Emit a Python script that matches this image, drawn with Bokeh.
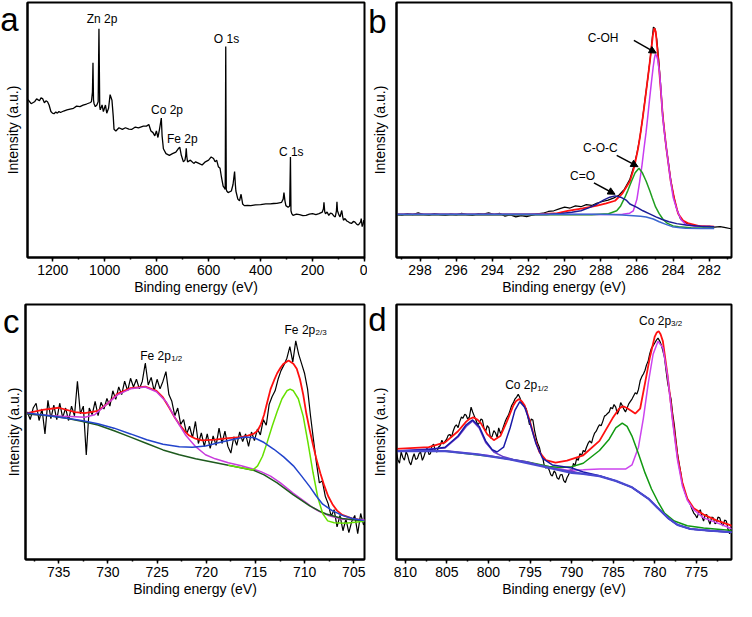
from bokeh.plotting import figure
from bokeh.models import Range1d, SingleIntervalTicker, FixedTicker, Label, Arrow, NormalHead
from bokeh.layouts import column, row
from bokeh.embed import file_html
from bokeh.resources import INLINE

FONT = "Liberation Sans"

# ---------------- panel a: survey spectrum (binding energy eV, intensity a.u.)
a_survey = [(1295, 162.3), (1283, 158), (1270, 160), (1262, 163), (1251, 161), (1245, 164), (1239, 163.3),
            (1232, 159), (1226, 161), (1220, 160), (1214, 156.7), (1207, 150), (1201, 148.3), (1195, 147.7),
            (1188, 149.5), (1182, 148.3), (1176, 150), (1170, 149), (1158, 150.5), (1145, 151.7), (1133, 152.5),
            (1120, 153.3), (1108, 155.5), (1095, 155), (1083, 156.5), (1070, 157.7), (1057, 159), (1051, 160),
            (1047, 170), (1045, 200), (1043, 162), (1041, 158.3), (1036, 155), (1030, 156.7), (1025, 160),
            (1022, 235), (1019, 155), (1017, 151.7), (1010, 156.7), (1005, 150), (997, 156.7), (992, 148.3),
            (985, 153.3), (979, 167.3), (972, 161.7), (967, 145), (964, 131.7), (957, 130), (945, 133.3),
            (932, 131.7), (920, 133.3), (907, 132), (895, 131.7), (882, 134), (870, 133.3), (851, 135),
            (839, 135), (830, 136.7), (822, 130), (814, 128.3), (807, 125), (801, 130), (795, 123.3),
            (789, 131.7), (784, 140), (782, 143.3), (779, 125), (774, 111.7), (764, 106.7), (751, 105),
            (739, 106.7), (726, 108.3), (717, 111.7), (711, 113.3), (705, 105), (697, 98.3), (691, 100),
            (688, 105), (686, 112.3), (684, 104), (681, 98.3), (670, 100), (657, 96.7), (650, 98.3),
            (637.5, 96.7), (625, 95), (612.5, 98.3), (600, 100), (590, 103.3), (581, 101.7), (575, 98.3),
            (569, 100), (562.5, 93.3), (556, 91.7), (550, 81.7), (544, 73.3), (540, 71.7), (536, 70),
            (534, 216.7), (532, 70), (530, 68.3), (525, 66.7), (512.5, 68.3), (506, 75), (500, 88.3),
            (497, 75), (495, 68.3), (487.5, 60), (481, 58.3), (475, 65), (469, 55), (462.5, 53.3),
            (450, 53.5), (437.5, 53.3), (420, 54), (400, 54.3), (380, 55), (362.5, 55), (350, 55.5),
            (337.5, 55.7), (319, 56.7), (313, 60), (310, 66.7), (306, 58), (302.5, 53.3), (294, 51.7),
            (288, 53), (285, 103.3), (283, 48), (280, 45), (275, 43.3), (262, 44.5), (250, 44), (237, 43),
            (225, 43.3), (212, 44.5), (200, 45), (187, 44), (175, 45), (162.5, 46.7), (158, 50), (156, 56.7),
            (153, 47), (150, 45), (144, 46.7), (137.5, 43.3), (131, 45.5), (125, 45), (119, 43), (112.5, 41.7),
            (108, 48), (106, 57.3), (104, 48), (100, 45), (97, 43), (94, 41.7), (90, 46), (87.5, 48.3),
            (84, 42), (81, 38.3), (75, 40), (68, 37.5), (62.5, 36.7), (56, 35.5), (50, 35), (43, 37),
            (37.5, 36.7), (31, 34.5), (25, 33.3), (19, 35), (15, 36.5), (12.5, 40), (9, 31.7), (5, 35),
            (2.5, 38.3), (0, 36)]
a_peaks = [("Zn 2p", 1010, 245), ("O 1s", 531, 224), ("C 1s", 282, 108.5),
           ("Co 2p", 760, 151.5), ("Fe 2p", 701, 121.5)]

# ---------------- panel b: C 1s
b_data = [(299.3, 44.3), (299.0, 43.5), (298.7, 45.2), (298.4, 44.0), (298.1, 45.8), (297.8, 44.2), (297.5, 43.6),
          (297.2, 45.0), (296.9, 44.1), (296.6, 43.2), (296.3, 44.6), (296.0, 43.8), (295.7, 45.3), (295.4, 44.0),
          (295.1, 43.3), (294.8, 45.0), (294.5, 44.5), (294.2, 45.8), (293.9, 44.2), (293.6, 45.5), (293.3, 42.5),
          (293.0, 43.8), (292.7, 41.7), (292.4, 43.0), (292.1, 42.0), (291.8, 43.4), (291.5, 44.8), (291.2, 45.5),
          (290.9, 47.3), (290.6, 48.0), (290.3, 50.0), (290.0, 51.7), (289.7, 50.8), (289.4, 53.0), (289.1, 52.2),
          (288.8, 54.3), (288.5, 53.5), (288.2, 56.0), (287.9, 57.5), (287.6, 59), (287.3, 61), (287.0, 64),
          (286.7, 70), (286.4, 80), (286.2, 92), (286.0, 107), (285.85, 122), (285.7, 141), (285.55, 163),
          (285.4, 184), (285.25, 207), (285.15, 226), (285.09, 236.7), (285.0, 235), (284.9, 224), (284.8, 204),
          (284.7, 180), (284.6, 152), (284.5, 133), (284.4, 116), (284.28, 100), (284.15, 82), (284.0, 66),
          (283.8, 50), (283.6, 40), (283.4, 36.5), (283.1, 34), (282.9, 33), (282.6, 32.5), (282.3, 31.5),
          (282.0, 32), (281.7, 31.3), (281.4, 31.8), (281.1, 30.7), (280.8, 29.5)]
b_envelope = [(299.3, 44.3), (292.0, 44.3), (290.5, 45.2), (289.83, 48), (289.0, 50.5), (288.2, 53.3), (287.7, 55.5),
              (287.21, 58.3), (286.8, 66), (286.39, 78.3), (286.15, 93), (285.94, 111.7), (285.8, 128),
              (285.67, 145), (285.55, 162), (285.44, 178.3), (285.32, 196), (285.22, 211.7), (285.12, 228),
              (285.04, 235.7), (284.96, 232), (284.86, 211.7), (284.78, 195), (284.71, 178.3), (284.64, 162),
              (284.57, 145), (284.47, 128), (284.37, 111.7), (284.25, 95), (284.13, 78.3), (283.93, 60),
              (283.72, 45), (283.45, 38), (283.14, 35), (282.6, 32.5), (281.73, 31.7)]
b_c_oh = [(299.3, 44.3), (287.5, 44.3), (286.8, 44.5), (286.4, 45.5), (286.2, 48), (286.0, 60), (285.85, 78),
          (285.72, 95), (285.61, 112), (285.5, 128), (285.4, 145), (285.3, 163), (285.2, 180), (285.1, 196),
          (285.03, 205), (284.98, 209), (284.92, 207.5), (284.86, 204), (284.75, 190), (284.67, 172),
          (284.58, 145), (284.48, 128), (284.37, 112), (284.25, 95), (284.13, 78), (284.0, 62), (283.77, 48),
          (283.55, 38.5), (283.3, 34), (282.8, 32), (281.73, 31.7)]
b_c_o_c = [(299.3, 43.8), (288.5, 43.8), (287.57, 45), (287.12, 48), (286.9, 53), (286.67, 61.7), (286.5, 69),
           (286.3, 78.3), (286.1, 87), (285.89, 91.7), (285.7, 87), (285.49, 78.3), (285.3, 69), (285.16, 61.7),
           (284.97, 52), (284.77, 45), (284.55, 39), (284.31, 35), (284.0, 32.5), (283.7, 31.7), (283.0, 30.5),
           (281.73, 30.3)]
b_c_eq_o = [(299.3, 44.3), (291.0, 44.3), (290.2, 45.3), (289.6, 46.5), (289.1, 48), (288.6, 51.5), (288.2, 55),
            (287.8, 59.5), (287.5, 62), (287.21, 63.3), (286.9, 62), (286.6, 59), (286.39, 55), (286.0, 51.5),
            (285.67, 48), (285.3, 44.8), (284.95, 41.7), (284.6, 39), (284.23, 36.7), (283.8, 34.8),
            (283.3, 33.3), (282.5, 32), (281.73, 31.7)]
b_background = [(299.3, 44.5), (288.5, 44.5), (287.5, 44.2), (286.8, 43.7), (286.2, 43), (285.8, 42.3),
                (285.49, 41.7), (285.1, 39.5), (284.77, 36.7), (284.4, 34), (284.05, 31.7), (283.6, 30.5),
                (283.3, 30), (282.5, 29.8), (281.73, 29.8)]

# ---------------- panel c: Fe 2p
c_data = [(738.2, 154), (737.9, 146), (737.6, 158), (737.3, 163), (737.0, 145), (736.7, 157), (736.4, 131),
          (736.1, 166), (735.8, 147), (735.5, 161), (735.2, 146), (734.9, 163), (734.6, 148), (734.3, 158),
          (734.0, 145), (733.7, 160), (733.4, 150), (733.1, 186), (732.8, 152), (732.5, 160), (732.2, 109),
          (731.9, 158), (731.6, 151), (731.3, 165), (731.0, 150), (730.7, 164), (730.4, 157), (730.1, 168),
          (729.8, 160), (729.5, 176), (729.2, 167), (728.9, 180), (728.6, 172), (728.3, 186), (728.0, 176),
          (727.7, 189), (727.4, 180), (727.1, 188), (726.8, 178), (726.5, 186), (726.2, 205), (725.9, 182),
          (725.6, 190), (725.3, 176), (725.0, 188), (724.7, 178), (724.4, 186), (724.1, 196), (723.8, 172),
          (723.5, 165), (723.2, 150), (722.9, 158), (722.6, 141), (722.3, 146), (722.0, 131), (721.7, 139),
          (721.4, 127), (721.1, 144), (720.8, 121), (720.5, 132), (720.2, 118), (719.9, 131), (719.6, 116),
          (719.3, 129), (719.0, 119), (718.7, 137), (718.4, 121), (718.1, 134), (717.8, 118), (717.5, 111),
          (717.2, 128), (716.9, 119), (716.6, 133), (716.3, 123), (716.0, 131), (715.7, 118), (715.4, 133),
          (715.1, 124), (714.8, 136), (714.5, 130), (714.2, 146), (713.9, 140), (713.6, 162), (713.3, 170),
          (713.0, 176), (712.7, 188), (712.4, 197), (712.1, 203), (711.8, 210), (711.5, 222), (711.2, 206),
          (710.9, 228), (710.6, 214), (710.3, 204), (710.0, 194), (709.7, 178), (709.4, 150), (709.1, 125),
          (708.8, 101), (708.5, 80), (708.2, 82), (707.9, 66), (707.6, 58), (707.3, 45), (707.0, 52),
          (706.7, 34), (706.4, 46), (706.1, 30), (705.8, 42), (705.5, 28), (705.2, 40), (704.9, 46),
          (704.6, 27), (704.3, 48), (704.0, 36)]
c_envelope = [(738.2, 152.7), (736.66, 156), (735.0, 158.3), (733.34, 153.7), (732.35, 152.7), (731.02, 155),
              (730.03, 162.7), (729.03, 172.7), (727.7, 178.7), (726.2, 180.3), (725.06, 176), (724.4, 169),
              (723.73, 157.7), (723.2, 148), (722.74, 141), (722.2, 134), (721.74, 129.3), (721.1, 126),
              (720.42, 124.3), (719.09, 125), (717.76, 126.7), (716.44, 127.7), (715.78, 129.3), (715.2, 131),
              (714.78, 134.3), (714.45, 141), (714.12, 151), (713.8, 164), (713.46, 177.7), (713.1, 187),
              (712.79, 194.3), (712.45, 200), (712.13, 204.3), (711.63, 207.7), (711.14, 204.3), (710.8, 199),
              (710.47, 188), (710.14, 172), (709.82, 152), (709.48, 135), (709.15, 120), (708.83, 106),
              (708.4, 90), (708.0, 77), (707.6, 66), (707.17, 57.7), (706.7, 51), (706.17, 46.5), (705.2, 43),
              (704.2, 41), (703.9, 40.8)]
c_fe_half = [(738.2, 151.7), (734.34, 149.3), (732.35, 148.3), (731.35, 151), (730.03, 162.7), (729.03, 171.7),
             (727.7, 178), (726.2, 180), (725.06, 175), (724.06, 164.3), (723.07, 146), (722.07, 129.3),
             (721.08, 117.7), (720.08, 109.3), (719.09, 105), (717.76, 101), (716.44, 97.7), (715.44, 95),
             (714.45, 91.7), (713.46, 87), (712.46, 80), (711.14, 69), (709.81, 59), (709.15, 54),
             (708.48, 50), (707.49, 45.5), (706.16, 42), (704.17, 41.5), (703.9, 41.5)]
c_background = [(738.2, 151.7), (736.0, 150), (734.34, 147.7), (732.68, 144.3), (731.02, 140.3), (729.37, 134.3),
                (727.7, 127.7), (726.05, 121), (724.4, 114.3), (722.74, 109.3), (721.08, 105), (719.42, 101.7),
                (717.76, 98.3), (716.1, 95), (715.11, 92.7), (714.12, 88.3), (712.79, 80), (711.14, 67.5),
                (709.48, 56), (708.48, 50.5), (707.8, 47.5), (706.17, 42.7), (704.17, 40.4), (703.9, 40.4)]
c_fe_3half = [(717.76, 98.3), (715.78, 94.3), (715.28, 93.3), (714.78, 97.7), (714.28, 107.7), (713.79, 122.7),
              (713.29, 139.3), (712.79, 154.3), (712.3, 167.7), (711.8, 176), (711.47, 177.7), (711.14, 176),
              (710.64, 167.7), (710.14, 149.3), (709.64, 121), (709.15, 91), (708.65, 64.3), (708.15, 47.7),
              (707.65, 40.3), (706.99, 38.3), (705.83, 37.7), (704.17, 39.7), (703.9, 39.8)]
c_satellite = [(738.2, 152.7), (736.0, 150), (734.34, 147.7), (732.68, 145), (731.02, 141.7), (729.37, 137),
               (727.7, 131), (726.05, 125), (724.4, 120.3), (722.74, 117.7), (721.41, 117), (720.08, 118.3),
               (718.76, 121.7), (717.43, 125), (716.1, 127.7), (715.11, 127), (714.12, 122), (713.12, 115),
               (712.13, 107), (711.14, 97.7), (710.3, 87), (709.48, 76), (708.8, 66), (708.16, 57.7),
               (707.2, 51), (706.17, 46), (705.2, 43), (704.2, 41), (703.9, 40.8)]

# ---------------- panel d: Co 2p
d_data = [(811.09, 111.7), (810.9, 104), (810.7, 100), (810.5, 111.7), (810.3, 106), (810.11, 103.3), (809.9, 112),
          (809.72, 108.3), (809.5, 101), (809.33, 98.3), (809.1, 106), (808.94, 110), (808.75, 104),
          (808.55, 105), (808.35, 110), (808.16, 111.7), (807.95, 103), (807.77, 106.7), (807.55, 113),
          (807.37, 116.7), (807.15, 109), (806.98, 110), (806.8, 118), (806.59, 120), (806.4, 113),
          (806.2, 111.7), (806.0, 117), (805.81, 118.3), (805.6, 124), (805.42, 120), (805.2, 123),
          (805.03, 125), (804.85, 129), (804.64, 130), (804.45, 127), (804.25, 133.3), (804.05, 138),
          (803.86, 140), (803.65, 137), (803.46, 143.3), (803.25, 148), (803.07, 146.7), (802.85, 151),
          (802.68, 150), (802.5, 146), (802.29, 148.3), (802.09, 158.3), (801.9, 153.3), (801.7, 149),
          (801.51, 145), (801.3, 140), (801.12, 141.7), (800.9, 146), (800.73, 145), (800.55, 137),
          (800.34, 133.3), (800.15, 139), (799.94, 136.7), (799.75, 126), (799.55, 128.3), (799.35, 134),
          (799.16, 131.7), (798.95, 127), (798.77, 136.7), (798.55, 131), (798.38, 133.3), (798.2, 138),
          (797.99, 143.3), (797.8, 147), (797.6, 150), (797.4, 155), (797.21, 160), (797.0, 163),
          (796.82, 166.7), (796.6, 169), (796.42, 171.7), (796.23, 168.3), (796.05, 164), (795.84, 161.7),
          (795.65, 158), (795.45, 156.7), (795.25, 148), (795.06, 140), (794.85, 146), (794.66, 145),
          (794.45, 134), (794.27, 126.7), (794.1, 121), (793.88, 116.7), (793.7, 110), (793.49, 106.7),
          (793.3, 98), (793.1, 95), (792.9, 96), (792.71, 93.3), (792.5, 88), (792.32, 86.7), (792.1, 92),
          (791.93, 90), (791.75, 85), (791.54, 83.3), (791.35, 88), (791.14, 88.3), (790.95, 82),
          (790.75, 80), (790.56, 85), (790.36, 88), (790.17, 93.3), (789.97, 92), (789.78, 100), (789.6, 97),
          (789.39, 105), (789.2, 103), (789.0, 110), (788.8, 108), (788.6, 113.3), (788.4, 112),
          (788.21, 116.7), (788.0, 121), (787.82, 123.3), (787.6, 121), (787.43, 126.7), (787.25, 131),
          (787.04, 133.3), (786.85, 137), (786.65, 140), (786.45, 139), (786.26, 143.3), (786.05, 149),
          (785.87, 150), (785.65, 152), (785.48, 153.3), (785.3, 158), (785.08, 156.7), (784.9, 161),
          (784.69, 158.3), (784.5, 151), (784.3, 155), (784.1, 163), (783.91, 160), (783.7, 156),
          (783.52, 153.3), (783.3, 158), (783.13, 161.7), (782.95, 164), (782.74, 166.7), (782.55, 170),
          (782.35, 173.3), (782.15, 172), (781.96, 176.7), (781.75, 186), (781.56, 190), (781.35, 193),
          (781.17, 196.7), (781.0, 202), (780.78, 206.7), (780.6, 214), (780.39, 220), (780.2, 222),
          (780.0, 225), (779.8, 228), (779.61, 230), (779.4, 227), (779.22, 223.3), (779.0, 216),
          (778.83, 210), (778.65, 197), (778.44, 183.3), (778.25, 175), (778.04, 166.7), (777.85, 152),
          (777.65, 140), (777.45, 124), (777.26, 110), (777.05, 99), (776.87, 90), (776.7, 80),
          (776.48, 73.3), (776.3, 68), (776.09, 63.3), (775.9, 60), (775.7, 56.7), (775.5, 52),
          (775.31, 48.3), (775.1, 46), (774.92, 43.3), (774.7, 49), (774.52, 51.7), (774.3, 44),
          (774.13, 40), (773.95, 46), (773.74, 46.7), (773.55, 41), (773.35, 36.7), (773.15, 44),
          (772.96, 43.3), (772.75, 37), (772.57, 38.3), (772.4, 44), (772.18, 43.3), (772.0, 38),
          (771.79, 35), (771.6, 41), (771.39, 40), (771.2, 32), (771.0, 26.7), (770.85, 33), (770.69, 36.7)]
d_envelope = [(811.09, 115), (807.18, 116.7), (805.22, 121.7), (803.66, 133.3), (802.68, 143.3), (802.3, 146),
              (801.82, 147.7), (801.35, 145.5), (800.92, 141.7), (800.14, 130), (799.36, 124), (798.57, 128.3),
              (797.79, 143.3), (797.01, 160), (796.7, 164.5), (796.31, 166.7), (795.95, 164), (795.64, 160),
              (795.06, 145), (794.47, 126.7), (793.88, 111.7), (793.1, 103.3), (791.93, 100.7), (790.56, 102.7),
              (788.6, 108.3), (786.65, 123.3), (785.08, 146.7), (784.3, 156.7), (784.0, 158.5), (783.72, 159),
              (783.35, 157.5), (782.93, 155), (782.35, 151.7), (781.76, 156.7), (781.17, 183.3), (780.59, 210),
              (780.0, 231.7), (779.75, 236), (779.53, 237.3), (779.3, 234), (779.02, 226.7), (778.44, 190),
              (777.85, 146.7), (777.26, 106.7), (776.68, 80), (776.09, 63.3), (775.31, 53.3), (774.13, 46.7),
              (772.57, 40.7), (770.69, 35)]
d_co_half = [(811.09, 112.7), (807.18, 114), (805.22, 116.7), (803.66, 128.3), (802.68, 140), (801.9, 145),
             (801.12, 138.3), (800.34, 123.3), (799.55, 114), (798.97, 111.7), (798.18, 116.7), (797.4, 136.7),
             (796.82, 155), (796.23, 164), (795.64, 158.3), (795.06, 143.3), (794.27, 120), (793.49, 105),
             (792.32, 98.3), (789.97, 95), (788.6, 91), (786.65, 87), (784.69, 81.7), (782.74, 75),
             (780.78, 63.3), (779.61, 53.3), (778.44, 43.3), (777.26, 36), (775.7, 31.7), (773.35, 30),
             (770.69, 28.3)]
d_co_sat = [(811.09, 112.7), (805.22, 116), (803.66, 127.3), (802.68, 138.3), (801.9, 144), (801.12, 136.7),
            (800.34, 121.7), (799.36, 111.7), (798.18, 106.7), (797.01, 104), (795.45, 101.7), (793.49, 97.3),
            (791.54, 93.3), (789.97, 91.7), (788.6, 89), (786.65, 86.7), (784.69, 81.7), (782.74, 75),
            (780.78, 63.3), (779.61, 53.3), (778.44, 43.3), (777.26, 36), (775.7, 31.7), (773.35, 30),
            (770.69, 28.3)]
d_co_785 = [(811.09, 112.7), (805.22, 112.7), (803.27, 110.7), (799.36, 106.7), (795.45, 101.7), (792.71, 96.7),
            (791.3, 95.5), (790.0, 96.5), (789.2, 98.5), (788.6, 100), (786.65, 113.3), (785.48, 125),
            (784.69, 136.7), (783.91, 141.7), (783.33, 138.3), (782.74, 128.3), (781.96, 110), (781.17, 90),
            (780.39, 73.3), (779.61, 60), (778.83, 48.3), (777.65, 40), (776.09, 35), (774.13, 32.7),
            (770.69, 30)]
d_co_3half = [(811.09, 112.7), (805.22, 113), (800.0, 108), (795.45, 101), (792.5, 96), (790.56, 92.7),
              (788.6, 93.3), (786.65, 94), (784.69, 94), (783.52, 94), (782.74, 98.3), (781.96, 116.7),
              (781.37, 146.7), (780.78, 183.3), (780.2, 213.3), (779.61, 226.7), (779.02, 220), (778.44, 190),
              (777.85, 143.3), (777.26, 103.3), (776.68, 76.7), (776.09, 61.7), (775.31, 51.7), (774.13, 43.3),
              (772.57, 38.3), (770.69, 31.7)]
d_background = [(811.09, 112.7), (805.22, 112.7), (801.31, 109.3), (797.4, 104), (793.49, 96.7), (789.97, 90),
                (788.6, 89), (786.65, 86.7), (784.69, 81.7), (782.74, 75), (780.78, 63.3), (779.61, 53.3),
                (778.44, 43.3), (777.26, 36), (775.7, 31.7), (773.35, 30), (770.69, 28.3)]


def xs(pairs):
    return [p[0] for p in pairs]


def ys(pairs):
    return [p[1] for p in pairs]


def panel(xr, ytop, width, height, bl, br, bt, bb, interval, letter, letter_y, letter_gap, ylab_standoff):
    p = figure(width=width, height=height, x_range=Range1d(xr[0], xr[1]), y_range=Range1d(0, ytop),
               output_backend="svg", toolbar_location=None, tools="",
               min_border_left=bl, min_border_right=br, min_border_top=bt, min_border_bottom=bb)
    p.grid.visible = False
    p.outline_line_color = "black"
    p.outline_line_width = 2
    p.outline_line_alpha = 1
    xa = p.xaxis[0]
    xa.ticker = SingleIntervalTicker(interval=interval, num_minor_ticks=2)
    xa.axis_label = "Binding energy (eV)"
    xa.axis_label_text_font = FONT
    xa.axis_label_text_font_size = "14px"
    xa.axis_label_text_font_style = "normal"
    xa.axis_label_text_color = "black"
    xa.axis_label_standoff = 1
    xa.major_label_text_font = FONT
    xa.major_label_text_font_size = "14px"
    xa.major_label_text_color = "black"
    xa.major_label_standoff = 3
    xa.axis_line_width = 2
    xa.axis_line_color = "black"
    xa.major_tick_in = 0
    xa.major_tick_out = 4
    xa.minor_tick_in = 0
    xa.minor_tick_out = 2
    xa.major_tick_line_width = 1.5
    xa.minor_tick_line_width = 1.5
    xa.major_tick_line_color = "black"
    xa.minor_tick_line_color = "black"
    # left axis: no ticks, only the panel letter (as the single tick label) and the axis title
    ya = p.yaxis[0]
    ya.ticker = FixedTicker(ticks=[letter_y], minor_ticks=[])
    ya.major_label_overrides = {letter_y: letter}
    ya.major_label_text_font = FONT
    ya.major_label_text_font_size = "33px"
    ya.major_label_text_color = "black"
    ya.major_label_standoff = letter_gap
    ya.major_tick_line_color = None
    ya.minor_tick_line_color = None
    ya.major_tick_out = 0
    ya.major_tick_in = 0
    ya.minor_tick_out = 0
    ya.minor_tick_in = 0
    ya.axis_label = "Intensity (a.u.)"
    ya.axis_label_text_font = FONT
    ya.axis_label_text_font_size = "14px"
    ya.axis_label_text_font_style = "normal"
    ya.axis_label_text_color = "black"
    ya.axis_label_standoff = ylab_standoff
    ya.axis_line_width = 2
    ya.axis_line_color = "black"
    return p


def text(p, x, y, s, size="12px", align="center", dx=0, dy=0):
    p.add_layout(Label(x=x, y=y, text=s, text_font=FONT, text_font_size=size, text_align=align,
                       text_baseline="middle", text_color="black", x_offset=dx, y_offset=dy))


# ---- a
pa = panel((1297, 0), 262, 367, 297, 27, 3, 2, 40, 200, "a", 245, 9, -24)
pa.line(xs(a_survey), ys(a_survey), line_color="black", line_width=1.3)
for name, ex, iy in a_peaks:
    text(pa, ex, iy, name)

# ---- b
pb = panel((299.3, 280.77), 262, 367, 297, 29, 3, 2, 40, 2, "b", 242, 10, -23)
pb.line(xs(b_data), ys(b_data), line_color="black", line_width=1.2)
pb.line(xs(b_envelope), ys(b_envelope), line_color="#ff1010", line_width=1.8)
pb.line(xs(b_c_oh), ys(b_c_oh), line_color="#c83cf0", line_width=1.5)
pb.line(xs(b_c_o_c), ys(b_c_o_c), line_color="#1f9e1f", line_width=1.5)
pb.line(xs(b_c_eq_o), ys(b_c_eq_o), line_color="#1c1c96", line_width=1.5)
pb.line(xs(b_background), ys(b_background), line_color="#3a66d0", line_width=1.5)
text(pb, 287.87, 225.5, "C-OH")
text(pb, 288.02, 112.5, "C-O-C")
text(pb, 289.01, 84, "C=O")
for (x0, y0, x1, y1) in [(286.17, 223, 284.93, 210), (287.12, 105, 285.94, 93.3), (288.38, 76.7, 287.21, 65)]:
    pb.add_layout(Arrow(end=NormalHead(size=7, fill_color="black", line_color="black", line_width=1),
                        x_start=x0, y_start=y0, x_end=x1, y_end=y1, line_color="black", line_width=1.5))

# ---- c
pc = panel((738.38, 703.91), 266, 367, 302, 25, 3, 7, 40, 5, "c", 248, 6, -22)
pc.line(xs(c_data), ys(c_data), line_color="black", line_width=1.2)
pc.line(xs(c_envelope), ys(c_envelope), line_color="#ff1010", line_width=1.8)
pc.line(xs(c_fe_half), ys(c_fe_half), line_color="#c83cdc", line_width=1.5)
pc.line(xs(c_background), ys(c_background), line_color="#1e5a1e", line_width=1.5)
pc.line(xs(c_fe_3half), ys(c_fe_3half), line_color="#66e000", line_width=1.5)
pc.line(xs(c_satellite), ys(c_satellite), line_color="#2244cc", line_width=1.5)
text(pc, 726.72, 212.5, "Fe 2p", align="left")
text(pc, 726.72, 212.5, "1/2", size="8px", align="left", dx=31, dy=-3)
text(pc, 712.04, 239.5, "Fe 2p", align="left")
text(pc, 712.04, 239.5, "2/3", size="8px", align="left", dx=31, dy=-3)

# ---- d
pd = panel((811.06, 770.77), 265, 367, 302, 29, 3, 7, 40, 5, "d", 249, 10, -23)
pd.line(xs(d_data), ys(d_data), line_color="black", line_width=1.2)
pd.line(xs(d_envelope), ys(d_envelope), line_color="#ff1010", line_width=1.8)
pd.line(xs(d_co_3half), ys(d_co_3half), line_color="#cc44ee", line_width=1.5)
pd.line(xs(d_co_785), ys(d_co_785), line_color="#119911", line_width=1.5)
pd.line(xs(d_co_sat), ys(d_co_sat), line_color="#6a3dc8", line_width=1.5)
pd.line(xs(d_co_half), ys(d_co_half), line_color="#1a1aa8", line_width=1.5)
pd.line(xs(d_background), ys(d_background), line_color="#4a4ad0", line_width=2.2)
text(pd, 797.99, 180.9, "Co 2p", align="left")
text(pd, 797.99, 180.9, "1/2", size="8px", align="left", dx=32, dy=-3)
text(pd, 781.88, 248.0, "Co 2p", align="left")
text(pd, 781.88, 248.0, "3/2", size="8px", align="left", dx=32, dy=-3)

layout = column(row(pa, pb), row(pc, pd))
open("out.html", "w").write(file_html(layout, INLINE))
